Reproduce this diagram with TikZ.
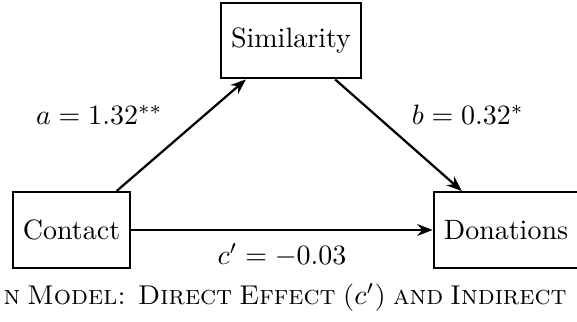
\documentclass[tikz,border=0pt]{standalone}
\usetikzlibrary{arrows.meta}

\begin{document}
\begin{tikzpicture}[x=0.357pt, y=-0.357pt,
    var/.style={draw, thick, minimum height=27pt, inner xsep=3.6pt},
    effect/.style={thick, -{Stealth[length=5.5pt, width=4.2pt]}}]
    \useasboundingbox (0,0) rectangle (577,322);
    \node[var] (contact) at (71.5,230) {Contact};
    \node[var] (similarity) at (291,40.5) {Similarity};
    \node[var] (donations) at (506,230) {Donations};
    \draw[effect] (contact) -- node[above left, xshift=-3pt] {$a = 1.32^{**}$} (similarity);
    \draw[effect] (similarity) -- node[above right, xshift=1pt] {$b = 0.32^{*}$} (donations);
    \draw[effect] (contact) -- node[below, yshift=-1pt] {$c' = -0.03$} (donations);
    % caption line, cut at both sides
    \node[anchor=base west, inner sep=0pt] (caption) at (3,305)
      {\fontsize{9.7}{12}\selectfont\makebox[201pt][s]{\textsc{n Model: Direct Effect ($c'$) and Indirect}}};
\end{tikzpicture}
\end{document}
